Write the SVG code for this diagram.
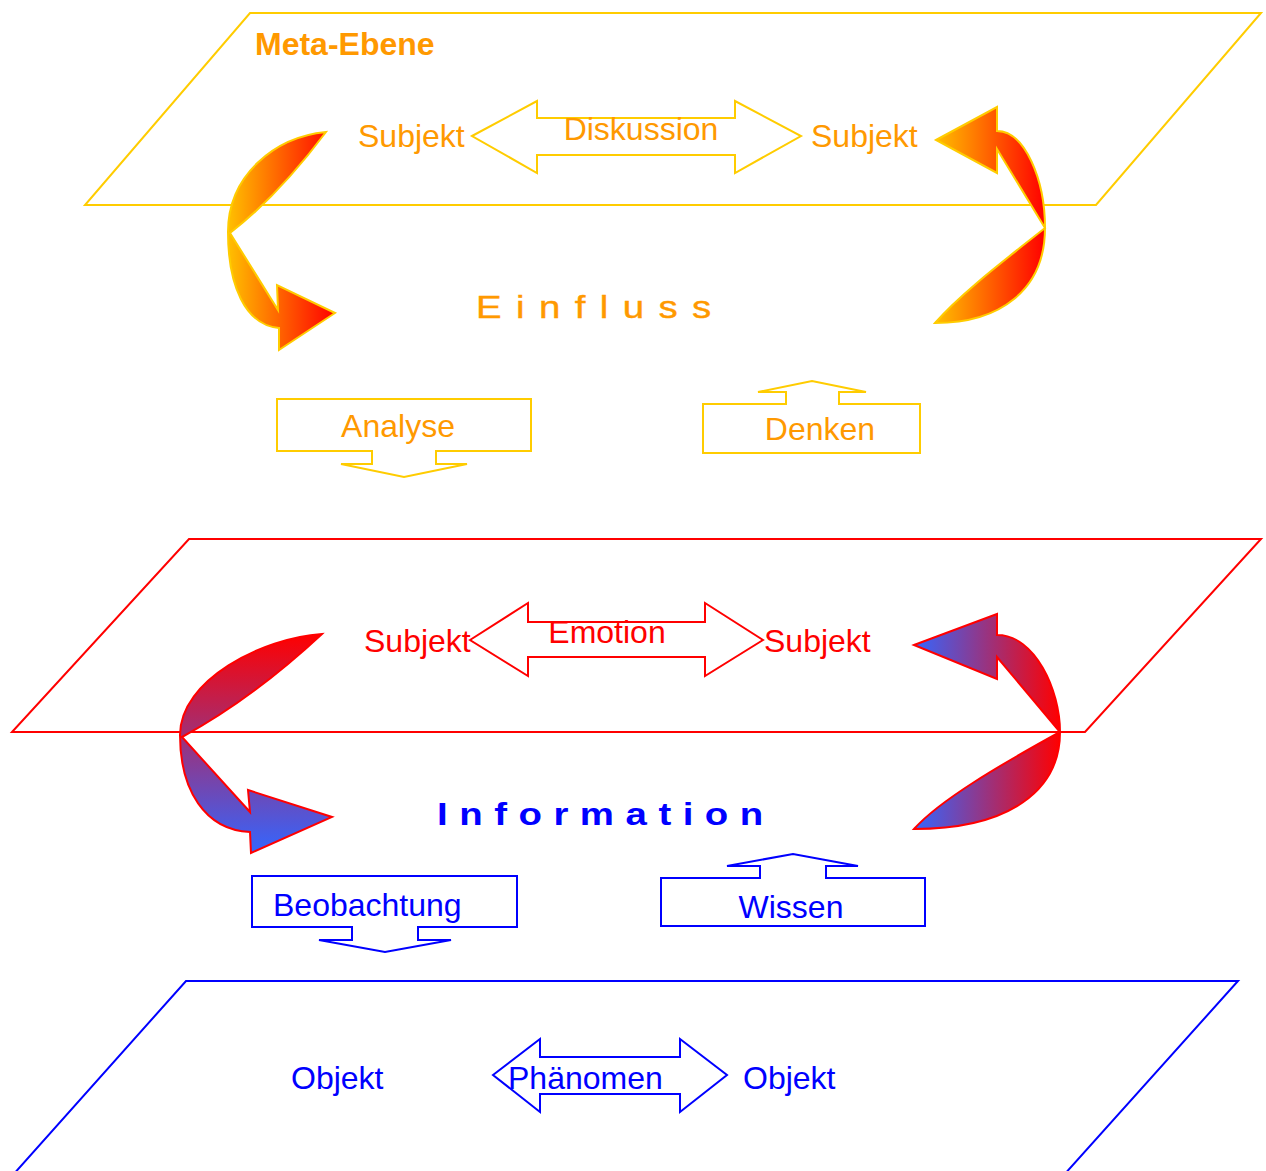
<svg xmlns="http://www.w3.org/2000/svg" width="1266" height="1171" viewBox="0 0 1266 1171">
  <defs>
    <linearGradient id="gOrange" x1="0" y1="0" x2="1" y2="0">
      <stop offset="0" stop-color="#FFC000"/>
      <stop offset="1" stop-color="#FF0000"/>
    </linearGradient>
    <linearGradient id="gRedBlueV" x1="0" y1="0" x2="0" y2="1">
      <stop offset="0" stop-color="#FF0000"/>
      <stop offset="1" stop-color="#3366FF"/>
    </linearGradient>
    <linearGradient id="gBlueRedH" x1="0" y1="0" x2="1" y2="0">
      <stop offset="0" stop-color="#3366FF"/>
      <stop offset="1" stop-color="#FF0000"/>
    </linearGradient>
  </defs>
  <style>
    .t { font-family: "Liberation Sans", Arial, sans-serif; font-size: 32px; }
    .or { fill: #FF9900; }
    .rd { fill: #FF0000; }
    .bl { fill: #0000FF; }
    .sy { fill: none; stroke: #FFCC00; stroke-width: 2; }
    .sr { fill: none; stroke: #FF0000; stroke-width: 2; }
    .sb { fill: none; stroke: #0000FF; stroke-width: 2; }
    .c { text-anchor: middle; }
  </style>
  <rect width="1266" height="1171" fill="#FFFFFF"/>

  <!-- Planes -->
  <g id="plane-meta">
    <polygon class="sy" points="250,13 1261,13 1096,205 85,205"/>
    <text class="t or" x="255" y="55" font-weight="bold" font-size="31">Meta-Ebene</text>
  </g>
  <g id="plane-emotion">
    <polygon class="sr" points="189,539 1261,539 1085,732 12,732"/>
  </g>
  <g id="plane-objekt">
    <polygon class="sb" points="186,981 1238,981 1063,1176 12,1176"/>
  </g>

  <!-- Meta level -->
  <g id="subjekt-meta-left"><text class="t or" x="358" y="147">Subjekt</text></g>
  <g id="subjekt-meta-right"><text class="t or" x="811" y="147">Subjekt</text></g>
  <g id="diskussion">
    <polygon class="sy" points="472,136 537,101 537,118 735,118 735,101 801,136 735,173 735,155 537,155 537,173"/>
    <text class="t or c" x="641" y="140">Diskussion</text>
  </g>

  <g id="einfluss"><text class="t or" transform="translate(476,318) scale(1.2,1)" x="0" y="0" font-size="30" letter-spacing="12" stroke="#FF9900" stroke-width="0.4">Einfluss</text></g>

  <g id="analyse">
    <polygon class="sy" points="277,399 531,399 531,451 436,451 436,464 467,464 404,477 341,464 372,464 372,451 277,451"/>
    <text class="t or c" x="398" y="437">Analyse</text>
  </g>
  <g id="denken">
    <polygon class="sy" points="703,404 786,404 786,392 758,392 812,381 866,392 839,392 839,404 920,404 920,453 703,453"/>
    <text class="t or c" x="820" y="440">Denken</text>
  </g>

  <!-- Emotion level -->
  <g id="subjekt-emo-left"><text class="t rd" x="364" y="652">Subjekt</text></g>
  <g id="subjekt-emo-right"><text class="t rd" x="764" y="652">Subjekt</text></g>
  <g id="emotion">
    <polygon class="sr" points="470,640 528,603 528,622 705,622 705,603 763,640 705,676 705,657 528,657 528,676"/>
    <text class="t rd c" x="607" y="643">Emotion</text>
  </g>

  <g id="information"><text class="t bl" transform="translate(437,825) scale(1.2,1)" x="0" y="0" font-size="31" font-weight="bold" letter-spacing="9.6">Information</text></g>

  <g id="beobachtung">
    <polygon class="sb" points="252,876 517,876 517,927 418,927 418,940 451,940 385,952 319,940 352,940 352,927 252,927"/>
    <text class="t bl" x="273" y="916">Beobachtung</text>
  </g>
  <g id="wissen">
    <polygon class="sb" points="661,878 760,878 760,866 727,866 793,854 858,866 826,866 826,878 925,878 925,926 661,926"/>
    <text class="t bl c" x="791" y="918">Wissen</text>
  </g>

  <!-- Objekt level -->
  <g id="objekt-left"><text class="t bl" x="291" y="1089">Objekt</text></g>
  <g id="objekt-right"><text class="t bl" x="743" y="1089">Objekt</text></g>
  <g id="phaenomen">
    <polygon class="sb" points="493,1075 540,1039 540,1057 680,1057 680,1039 727,1075 680,1112 680,1094 540,1094 540,1112"/>
    <text class="t bl" x="508" y="1089">Phänomen</text>
  </g>

  <!-- Connectors: curved arrows -->
  <g id="connectors">
    <path d="M 326,132 C 275,137 228,175 228,232 C 228,285 245,325 279,328 L 279,350 L 335,313 L 277,285 L 278,310 L 230,233 Q 278,196 326,132 Z" fill="url(#gOrange)" stroke="#FFCC00" stroke-width="2"/>
    <path d="M 936,140 L 997,107 L 997,131 C 1025,131 1045,180 1045,228 C 1045,290 1000,323 935,323 C 962,292 1010,256 1045,228 L 997,149 L 997,173 Z" fill="url(#gOrange)" stroke="#FFCC00" stroke-width="2"/>
    <path d="M 322,634 C 262,638 180,680 180,735 C 180,790 205,830 250,832 L 251,853 L 332,817 L 248,790 L 250,812 L 182,737 Q 252,699 322,634 Z" fill="url(#gRedBlueV)" stroke="#FF0000" stroke-width="2"/>
    <path d="M 914,645 L 997,614 L 997,635 C 1035,635 1060,690 1060,732 C 1060,790 1010,829 914,829 C 940,800 1000,765 1060,732 L 997,657 L 997,679 Z" fill="url(#gBlueRedH)" stroke="#FF0000" stroke-width="2"/>
  </g>
</svg>
